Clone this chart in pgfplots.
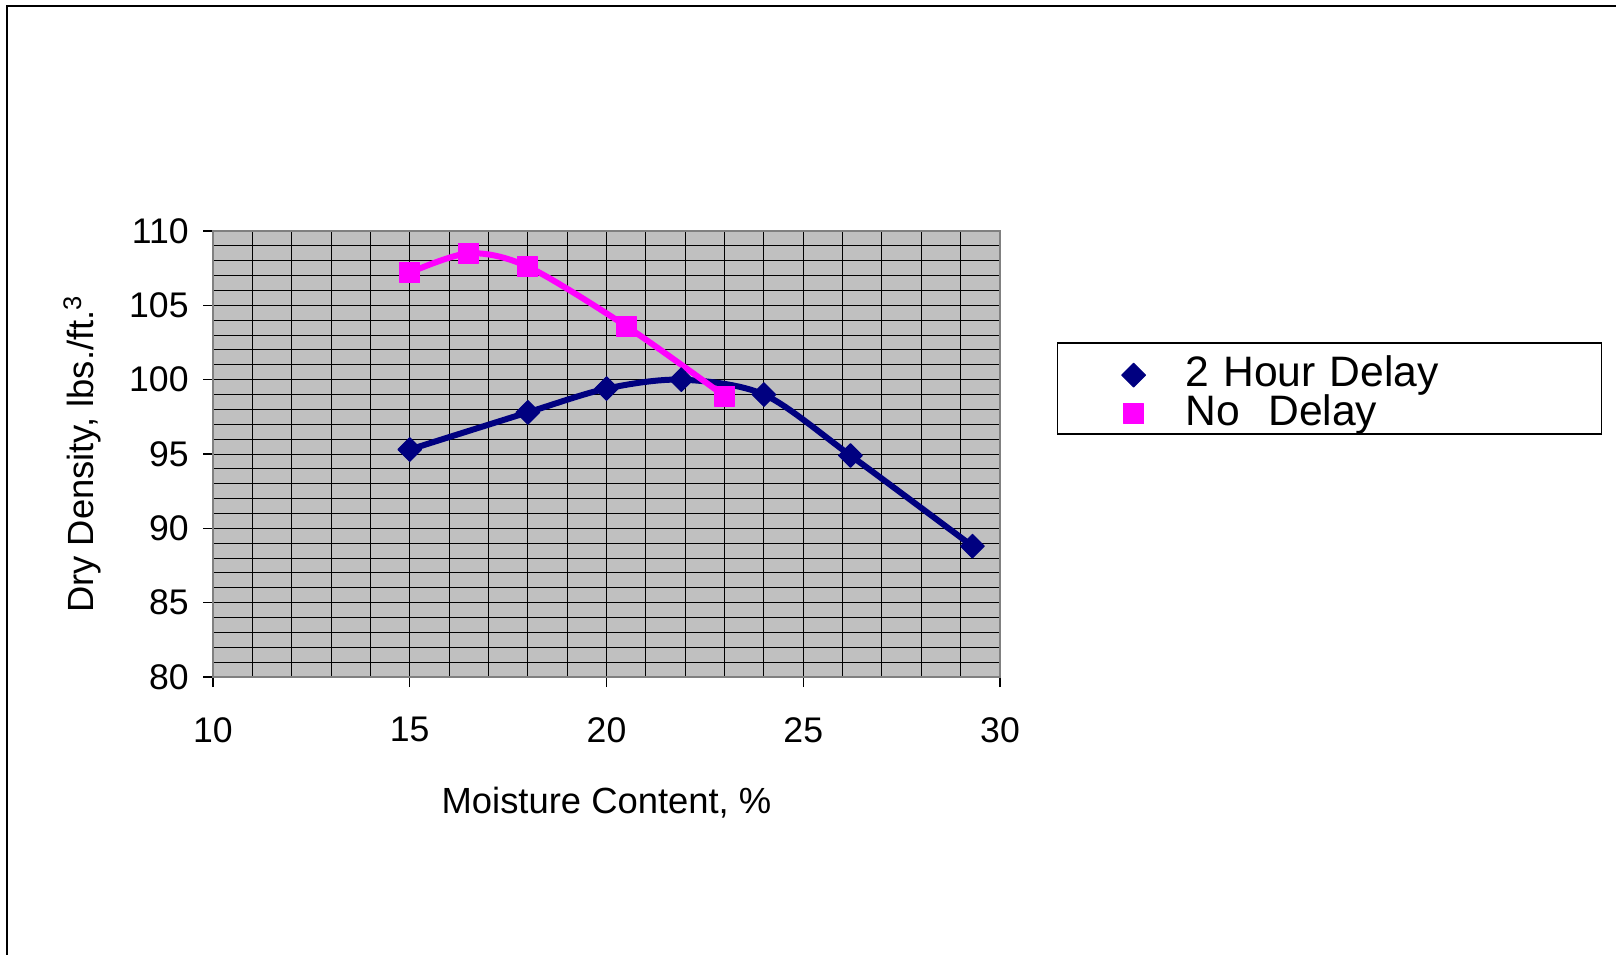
\documentclass[border=0pt]{standalone}
\usepackage{pgfplots}
\pgfplotsset{compat=1.18}
\usepackage{fontspec}
\setmainfont{Liberation Sans}

\definecolor{navyline}{RGB}{0,0,128}
\definecolor{magline}{RGB}{255,0,255}
\definecolor{plotgray}{RGB}{192,192,192}
\definecolor{framegray}{RGB}{128,128,128}

\begin{document}
\begin{tikzpicture}
% page area: 808pt x 477pt
\path[use as bounding box] (0pt,0pt) rectangle (808pt,477pt);
\draw[line width=1pt] (3.5pt,-2pt) -- (3.5pt,474pt) -- (812pt,474pt);
\begin{axis}[
  at={(106.5pt,138.5pt)}, anchor=south west,
  scale only axis, width=393.5pt, height=223pt,
  xmin=10, xmax=30, ymin=80, ymax=110,
  xtick={10,15,...,30}, ytick={80,85,...,110},
  minor x tick num=4, minor y tick num=4,
  grid=both,
  major grid style={black, line width=0.5pt},
  minor grid style={black, line width=0.5pt},
  axis background/.style={fill=plotgray},
  axis line style={framegray, line width=1.25pt},
  tick align=outside, tick pos=left,
  major tick length=5pt, minor tick length=0pt,
  tick style={black, line width=0.6pt},
  /pgf/number format/assume math mode=true,
  tick label style={font=\fontsize{17.8}{20}\selectfont},
  yticklabel style={inner sep=0pt, anchor=east, xshift=-7pt},
  xticklabel style={inner sep=0pt, anchor=north, yshift=-15pt},
  xlabel={Moisture Content, \%},
  ylabel={Dry Density, lbs./ft.\textsuperscript{3}},
  label style={font=\fontsize{18.2}{20}\selectfont},
  xlabel style={at={(axis description cs:0.5,-0.305)}, anchor=base},
  ylabel style={at={(axis description cs:-0.166,0.5)}, anchor=center},
  legend image code/.code={\draw[#1, only marks] plot coordinates {(0pt,-3pt)};},
  legend cell align=left,
  legend style={at={(rel axis cs:1.0724,0.751)}, anchor=north west,
    draw=black, line width=0.75pt, fill=white,
    inner xsep=32pt, inner ysep=3.5pt,
    font=\fontsize{21.3}{21.3}\selectfont,
    nodes={text width=176pt, text height=18.5pt, text depth=0.8pt, inner sep=0pt, align=left},
    column sep=20pt, row sep=0pt},
]
\addplot[navyline, line width=3pt, smooth, line join=round,
  mark=square*, mark size=4.2pt,
  mark options={rotate=45, solid, fill=navyline, line width=0.5pt}]
  coordinates {(15,95.3) (18,97.8) (20,99.4) (21.9,100.0) (24,99.0) (26.2,94.9) (29.3,88.8)};
\addlegendentry{2 Hour Delay}
\addplot[magline, line width=3pt, smooth, line join=round,
  mark=square*, mark size=5pt,
  mark options={solid, fill=magline, line width=0.5pt}]
  coordinates {(15,107.2) (16.5,108.5) (18,107.6) (20.5,103.6) (23,98.9)};
\addlegendentry{No\ \ Delay}
\end{axis}
\end{tikzpicture}
\end{document}
